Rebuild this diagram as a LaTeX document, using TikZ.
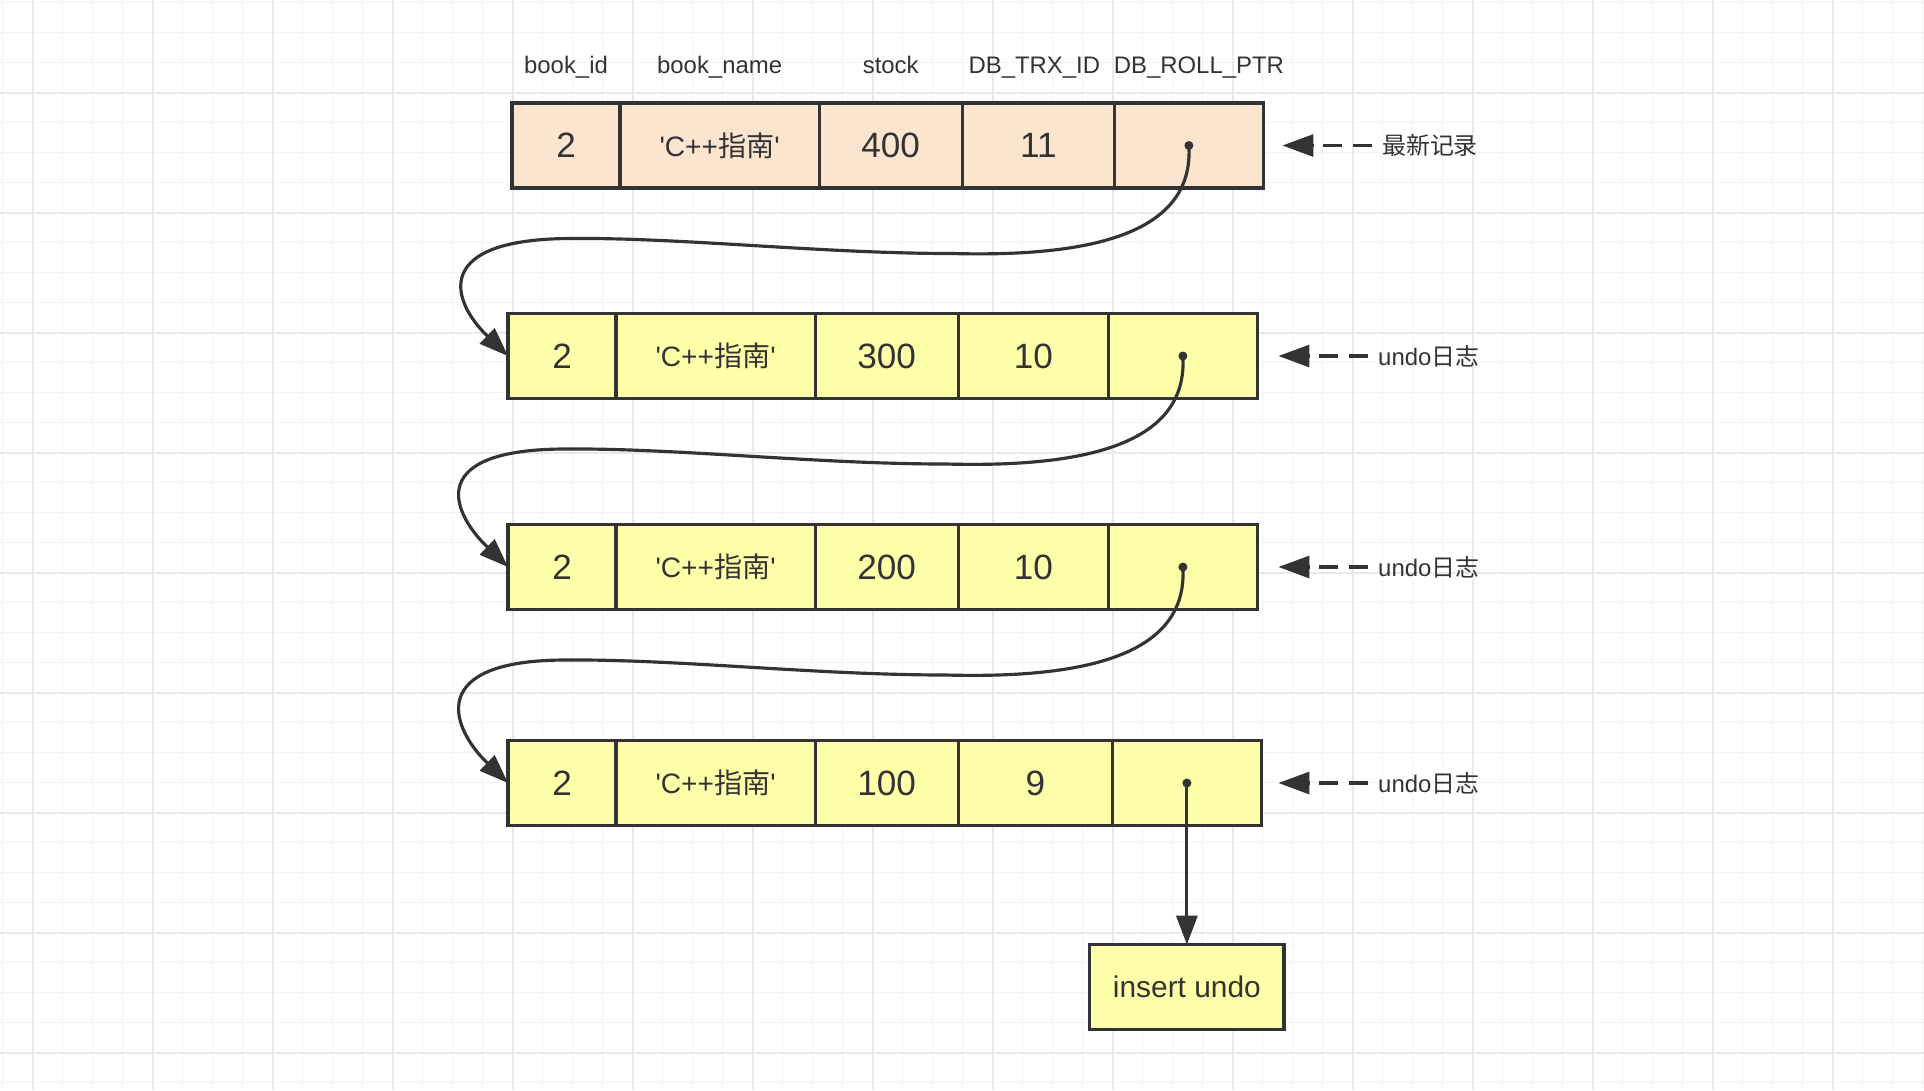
\documentclass[tikz,border=0pt]{standalone}
\usepackage{fontspec}
\setmainfont{Liberation Sans}
\newfontfamily\cjk{Noto Sans CJK SC}
\usepackage{xcolor}
\usetikzlibrary{positioning,arrows.meta}

\definecolor{testo}{HTML}{333333}
\definecolor{arancio}{HTML}{FBE5CF}
\definecolor{giallo}{HTML}{FFFFAA}
\definecolor{grigliamin}{HTML}{F3F3F3}
\definecolor{grigliamag}{HTML}{E9E9E9}

\begin{document}
\begin{tikzpicture}[x=0.01cm, y=-0.01cm,
    cella/.style={draw=testo, line width=0.9pt, minimum height=0.85cm, inner sep=0pt, outer sep=0pt, text=testo},
    intest/.style={text=testo, font=\fontsize{6.8}{8}\selectfont, inner sep=0pt},
    puntatore/.style={draw=testo, line width=0.9pt, -{Triangle[length=0.29cm, width=0.21cm]}},
    etichetta/.style={text=testo, font=\fontsize{6.8}{8}\selectfont, inner ysep=0pt, inner xsep=0.1cm},
    freccialab/.style={draw=testo, line width=0.9pt, dash pattern=on 0.19cm off 0.1cm, -{Triangle[length=0.31cm, width=0.22cm]}}]

    % Sfondo e griglia
    \fill[white] (0,0) rectangle (1924,1090);
    \useasboundingbox (0,0) rectangle (1924,1090);
    \foreach \i in {0,...,64} {
        \draw[grigliamin, line width=0.4pt] ({2.7+30*\i},0) -- ({2.7+30*\i},1090);
    }
    \foreach \j in {0,...,36} {
        \draw[grigliamin, line width=0.4pt] (0,{2.7+30*\j}) -- (1924,{2.7+30*\j});
    }
    \foreach \i in {0,...,15} {
        \draw[grigliamag, line width=0.5pt] ({32.7+120*\i},0) -- ({32.7+120*\i},1090);
    }
    \foreach \j in {0,...,8} {
        \draw[grigliamag, line width=0.5pt] (0,{92.7+120*\j}) -- (1924,{92.7+120*\j});
    }

    % Righe della versione
    \foreach \r/\ypos/\xpos/\stk/\trx/\ltrx/\colore/\lab in {1/145.5/512/400/11/1.52cm/arancio/{\cjk 最新记录}, 2/356/508/300/10/1.50cm/giallo/{undo\cjk 日志}, 3/567/508/200/10/1.50cm/giallo/{undo\cjk 日志}, 4/783/508/100/9/1.54cm/giallo/{undo\cjk 日志}} {
        \node[cella, fill=\colore, minimum width=1.08cm, anchor=west, font=\fontsize{10}{12}\selectfont] (id\r) at (\xpos,\ypos) {2};
        \node[cella, fill=\colore, minimum width=1.99cm, right=0pt of id\r, font=\fontsize{8}{10}\selectfont] (nome\r) {\textquotesingle C++{\cjk 指南}\textquotesingle};
        \node[cella, fill=\colore, minimum width=1.43cm, right=0pt of nome\r, font=\fontsize{10}{12}\selectfont] (stock\r) {\stk};
        \node[cella, fill=\colore, minimum width=\ltrx, right=0pt of stock\r, font=\fontsize{10}{12}\selectfont] (trx\r) {\trx};
        \node[cella, fill=\colore, minimum width=1.49cm, right=0pt of trx\r] (ptr\r) {};
        \fill[testo] (ptr\r.center) circle[radius=0.045cm];
        % etichetta a destra
        \node[etichetta, anchor=west] (lab\r) at ([xshift=8.59cm]id\r.west) {\lab};
        \coordinate (punta\r) at ([xshift=7.7cm]id\r.west);
        \draw[freccialab] (lab\r.west) -- (punta\r);
    }

    % Intestazioni
    \node[intest, anchor=base] (h-id) at ([yshift=0.29cm]id1.north) {book\_id};
    \node[intest, anchor=base] (h-nome) at ([yshift=0.29cm]nome1.north) {book\_name};
    \node[intest, anchor=base] (h-stock) at ([yshift=0.29cm]stock1.north) {stock};
    \node[intest, anchor=base] (h-trx) at ([yshift=0.29cm, xshift=-0.04cm]trx1.north) {DB\_TRX\_ID};
    \node[intest, anchor=base] (h-ptr) at ([yshift=0.29cm, xshift=0.1cm]ptr1.north) {DB\_ROLL\_PTR};

    % Catena dei puntatori
    \foreach \a/\b in {1/2, 2/3, 3/4} {
        \draw[puntatore] (ptr\a.center) .. controls +(5,84) and +(150,4) .. ++(-237,108)
            .. controls +(-130,0) and +(110,-1) .. ++(-380,-15)
            .. controls +(-140,0) and +(-58,-56) .. (id\b.west);
    }

    % insert undo
    \node[cella, fill=giallo, minimum width=1.94cm, below=1.19cm of ptr4, font=\fontsize{8.5}{10}\selectfont] (ins) {insert undo};
    \draw[puntatore] (ptr4.center) -- (ins);
\end{tikzpicture}
\end{document}
